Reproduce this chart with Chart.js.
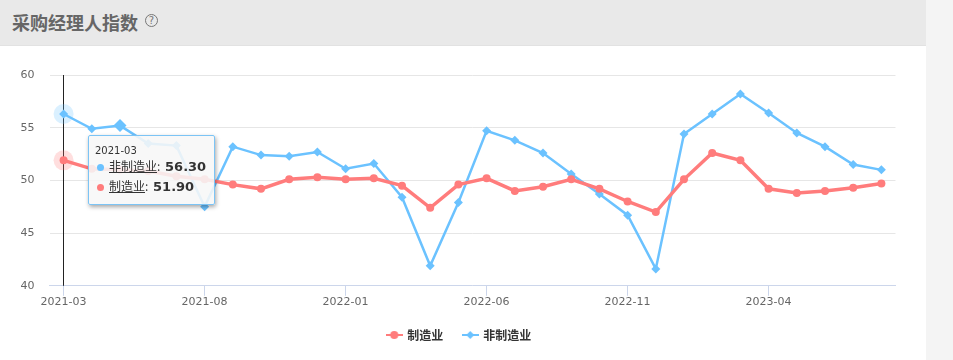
<!DOCTYPE html>
<html>
<head>
<meta charset="utf-8">
<script src="https://cdn.jsdelivr.net/npm/chart.js@4"></script>
<style>
  html, body { margin: 0; padding: 0; background: #fff; overflow: hidden; }
  body { width: 953px; height: 360px; position: relative; font-family: "Noto Sans CJK SC", sans-serif; }
  #side { position: absolute; left: 926px; top: 0; width: 27px; height: 360px; background: #f4f4f4; }
  #head { position: absolute; left: 0; top: 0; width: 926px; height: 45px; background: #e9e9e9; border-bottom: 1px solid #e2e2e2; }
  #title { position: absolute; left: 12px; top: 9px; font-size: 18px; line-height: 26px; font-weight: 700; color: #666; }
  #help { position: absolute; left: 145px; top: 14px; width: 11px; height: 11px; border: 1px solid #777; border-radius: 50%;
    font: 10px/11px "DejaVu Sans", sans-serif; color: #777; text-align: center; }
  #wrap { position: absolute; left: 0; top: 46px; width: 926px; height: 314px; }
  #tip { position: absolute; left: 88px; top: 135px; width: 125px; height: 68px; padding: 0; box-sizing: content-box;
    background: rgba(247,247,247,.88); border: 1px solid #7cc4f5; border-radius: 2px; box-shadow: 1px 2px 4px rgba(0,0,0,.35); color: #333; }
  #tip .d { position: absolute; left: 6px; top: 8px; font: 10px/14px "DejaVu Sans", sans-serif; }
  #tip .r { position: absolute; left: 8px; white-space: nowrap; font-size: 12px; line-height: 18px; }
  #tip i { display: inline-block; width: 7px; height: 7px; border-radius: 50%; margin-right: 5px; vertical-align: 0; }
  #tip u { text-underline-offset: 1px; }
  #tip b { font: 700 13px "DejaVu Sans", sans-serif; margin-left: 2px; }
</style>
</head>
<body>
<div id="head"><div id="title">采购经理人指数</div><div id="help">?</div></div>
<div id="side"></div>
<div id="wrap"><canvas id="pmi" width="926" height="314"></canvas></div>
<div id="tip"></div>
<script>
const categories = ['2021-03','2021-04','2021-05','2021-06','2021-07','2021-08','2021-09','2021-10','2021-11','2021-12',
  '2022-01','2022-02','2022-03','2022-04','2022-05','2022-06','2022-07','2022-08','2022-09','2022-10','2022-11','2022-12',
  '2023-01','2023-02','2023-03','2023-04','2023-05','2023-06','2023-07','2023-08']
const zhizao = [51.9,51.1,51.0,50.9,50.4,50.1,49.6,49.2,50.1,50.3,50.1,50.2,49.5,47.4,49.6,50.2,49.0,49.4,50.1,49.2,48.0,47.0,50.1,52.6,51.9,49.2,48.8,49.0,49.3,49.7]
const feizhizao = [56.3,54.9,55.2,53.5,53.3,47.5,53.2,52.4,52.3,52.7,51.1,51.6,48.4,41.9,47.9,54.7,53.8,52.6,50.6,48.7,46.7,41.6,54.4,56.3,58.2,56.4,54.5,53.2,51.5,51.0]
const yTicks = [40,45,50,55,60]

const red = '#ff7c7c'
const blue = '#6bc2ff'

// marcador da legenda: traço com o ponto no meio
function legendIcon(color, diamond) {
  const c = document.createElement('canvas')
  c.width = 17
  c.height = 10
  const g = c.getContext('2d')
  g.fillStyle = color
  g.fillRect(0, 4, 17, 2)
  g.beginPath()
  if (diamond) {
    g.moveTo(8.5, 1); g.lineTo(12.5, 5); g.lineTo(8.5, 9); g.lineTo(4.5, 5)
  } else {
    g.arc(8.5, 5, 4, 0, Math.PI * 2)
  }
  g.fill()
  return c
}

// halo e linha vertical do ponto ativo
const crosshair = {
  id: 'crosshair',
  beforeDatasetsDraw(chart) {
    const ctx = chart.ctx
    const x = chart.scales.x.getPixelForValue(0)
    ctx.save()
    ctx.strokeStyle = '#222'
    ctx.lineWidth = 1
    ctx.beginPath()
    ctx.moveTo(Math.floor(x) + 0.5, chart.chartArea.top)
    ctx.lineTo(Math.floor(x) + 0.5, chart.chartArea.bottom)
    ctx.stroke()
    ctx.fillStyle = 'rgba(255,124,124,.25)'
    ctx.beginPath()
    ctx.arc(x, chart.scales.y.getPixelForValue(zhizao[0]), 10, 0, Math.PI * 2)
    ctx.fill()
    ctx.fillStyle = 'rgba(107,194,255,.25)'
    ctx.beginPath()
    ctx.arc(x, chart.scales.y.getPixelForValue(feizhizao[0]), 10, 0, Math.PI * 2)
    ctx.fill()
    ctx.restore()
  }
}

const moveLegend = {
  id: 'moveLegend',
  afterLayout(chart) {
    chart.legend.left += 11.5
    chart.legend.right += 11.5
  }
}

new Chart(document.getElementById('pmi'), {
  type: 'line',
  plugins: [crosshair, moveLegend],
  data: {
    labels: categories,
    datasets: [
      {
        label: '制造业',
        data: zhizao,
        borderColor: red,
        backgroundColor: red,
        borderWidth: 3.5,
        pointRadius: 4,
        pointBorderWidth: 0,
        pointStyle: 'circle',
        tension: 0
      },
      {
        label: '非制造业',
        data: feizhizao,
        borderColor: blue,
        backgroundColor: blue,
        borderWidth: 2.5,
        pointRadius: ctx => ctx.dataIndex === 2 ? 6.5 : 4.5,
        pointBorderWidth: 0,
        pointStyle: 'rectRot',
        tension: 0
      }
    ]
  },
  options: {
    responsive: false,
    animation: false,
    events: [],
    layout: { padding: { top: 29, right: 30.5, bottom: 9, left: 0 } },
    plugins: {
      tooltip: { enabled: false },
      legend: {
        position: 'bottom',
        labels: {
          usePointStyle: true,
          pointStyleWidth: 14,
          padding: 20,
          color: '#333',
          font: { family: '"Noto Sans CJK SC"', size: 12, weight: '700' },
          generateLabels(chart) {
            return chart.data.datasets.map((ds, i) => ({
              text: ds.label,
              datasetIndex: i,
              fontColor: '#333',
              lineWidth: 0,
              pointStyle: legendIcon(i === 0 ? red : blue, i === 1)
            }))
          }
        }
      }
    },
    scales: {
      x: {
        offset: true,
        grid: {
          offset: false,
          drawOnChartArea: false,
          tickLength: 10,
          tickColor: ctx => ctx.index % 5 === 0 ? '#ccd6eb' : 'transparent'
        },
        border: { color: '#ccd6eb' },
        ticks: {
          autoSkip: false,
          maxRotation: 0,
          color: '#666',
          padding: 0,
          font: { family: '"DejaVu Sans"', size: 11 },
          callback(v, i) { return i % 5 === 0 ? categories[i] : '' }
        }
      },
      y: {
        min: 40,
        max: 60,
        afterFit(s) { s.width = 49.5 },
        afterBuildTicks(s) { s.ticks = yTicks.map(v => ({ value: v })) },
        grid: { color: '#e6e6e6', drawTicks: false },
        border: { display: false },
        ticks: {
          color: '#666',
          padding: 15,
          font: { family: '"DejaVu Sans"', size: 11 }
        }
      }
    }
  }
})

// tooltip fixo do primeiro mês
function tipRow(name, value, color, top) {
  return `<div class="r" style="top:${top}px"><i style="background:${color}"></i><u>${name}</u>: <b>${value.toFixed(2)}</b></div>`
}
document.getElementById('tip').innerHTML =
  `<div class="d">${categories[0]}</div>` +
  tipRow('非制造业', feizhizao[0], blue, 21) +
  tipRow('制造业', zhizao[0], red, 41)
</script>
</body>
</html>
